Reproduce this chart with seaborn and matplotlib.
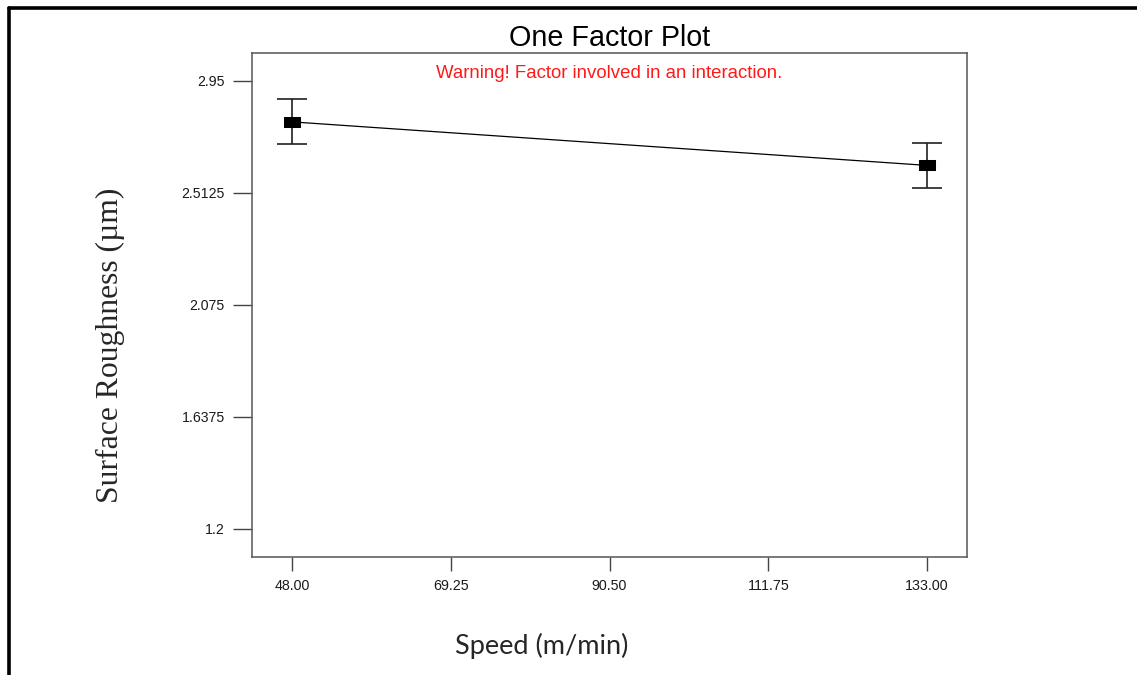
import matplotlib
matplotlib.use("Agg")
import matplotlib.pyplot as plt
from matplotlib.lines import Line2D
import pandas as pd
import seaborn as sns

# Factor levels and predicted response
speed = [48.0, 133.0]
roughness = [2.79, 2.62]
lsd_half = [0.088, 0.088]

x_ticks = [48.00, 69.25, 90.50, 111.75, 133.00]
y_ticks = [1.2, 1.6375, 2.075, 2.5125, 2.95]
y_tick_labels = ["1.2", "1.6375", "2.075", "2.5125", "2.95"]

sns.set_style("ticks")
plt.rcParams["font.family"] = ["Liberation Sans", "DejaVu Sans"]

fig = plt.figure(figsize=(11.37, 6.75), dpi=100)
ax = fig.add_axes([252 / 1137, 1 - 557 / 675, (967 - 252) / 1137, (557 - 53) / 675])

df = pd.DataFrame({"Speed": speed, "Roughness": roughness})

# Error bars first so the markers sit on top
ax.errorbar(speed, roughness, yerr=lsd_half, fmt="none", ecolor="#202020",
            elinewidth=1.2, capsize=10.8, capthick=1.2, zorder=2)

rect = [(-1.6, -1.0), (1.6, -1.0), (1.6, 1.0), (-1.6, 1.0), (-1.6, -1.0)]
sns.lineplot(data=df, x="Speed", y="Roughness", ax=ax, color="black",
             linewidth=0.9, marker=rect, markersize=11.5,
             markerfacecolor="black", markeredgecolor="black", zorder=3)

ax.set_xlim(42.65, 138.35)
ax.set_ylim(1.0906, 3.059)
ax.set_xticks(x_ticks)
ax.set_xticklabels([f"{v:.2f}" for v in x_ticks])
ax.set_yticks(y_ticks)
ax.set_yticklabels(y_tick_labels)

for s in ax.spines.values():
    s.set_visible(True)
    s.set_color("#555555")
    s.set_linewidth(1.1)

ax.tick_params(axis="y", length=13.7, width=1.0, color="#444444",
               labelsize=10.2, pad=6, labelcolor="#1a1a1a")
ax.tick_params(axis="x", length=10, width=1.0, color="#444444",
               labelsize=10.3, pad=6, labelcolor="#1a1a1a")

ax.set_xlabel("")
ax.set_ylabel("")

ax.set_title("One Factor Plot", fontsize=20.7, pad=5, color="black")
ax.text(0.5, 0.96, "Warning! Factor involved in an interaction.",
        transform=ax.transAxes, ha="center", va="center",
        fontsize=13.4, color="#ff1a1a")

fig.text(110 / 1137, 1 - 345 / 675, "Surface Roughness (µm)", rotation=90,
         ha="center", va="center", fontsize=22.8,
         family=["Liberation Serif", "DejaVu Serif"])
fig.text(542 / 1137, 1 - 646 / 675, "Speed (m/min)", ha="center", va="center",
         fontsize=19.5, family=["Lato", "DejaVu Sans"])

# Outer frame: top and left border
fig.add_artist(Line2D([8.5 / 1137, 1.0], [1 - 7.5 / 675, 1 - 7.5 / 675],
                      transform=fig.transFigure, color="black", linewidth=2.6))
fig.add_artist(Line2D([8.5 / 1137, 8.5 / 1137], [0.0, 1 - 7.5 / 675],
                      transform=fig.transFigure, color="black", linewidth=2.6))

fig.savefig("out.png", dpi=100)
